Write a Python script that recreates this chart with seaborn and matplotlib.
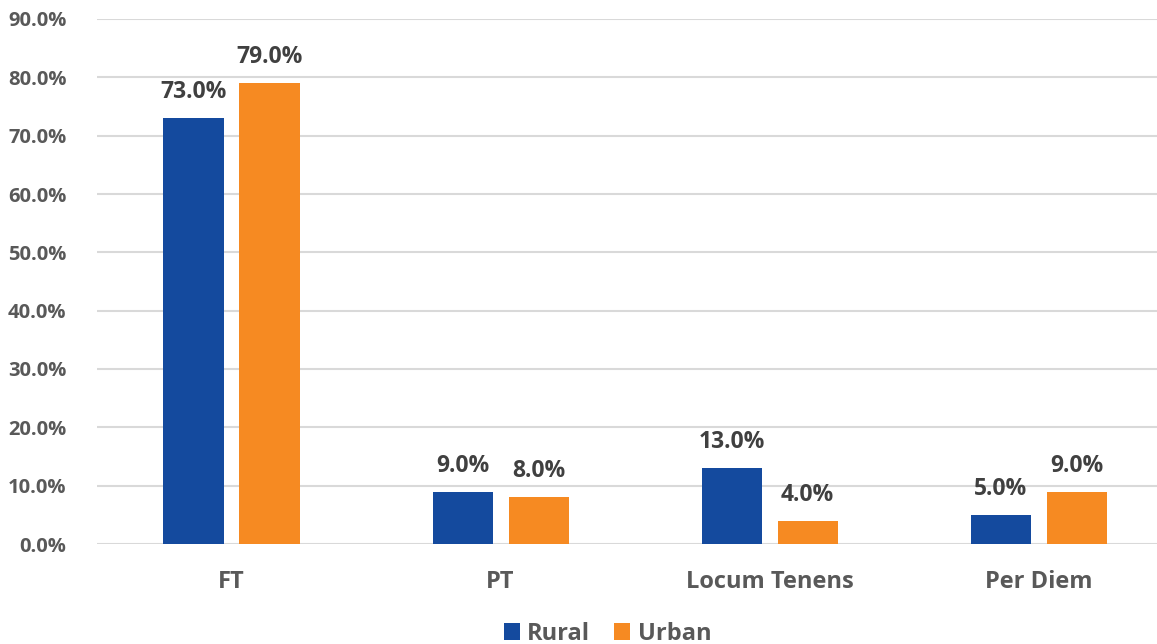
import matplotlib
matplotlib.use('Agg')
import matplotlib.pyplot as plt
import seaborn as sns
import pandas as pd

categories = ['FT', 'PT', 'Locum Tenens', 'Per Diem']
rural = [73.0, 9.0, 13.0, 5.0]
urban = [79.0, 8.0, 4.0, 9.0]

df = pd.DataFrame({
    'category': categories * 2,
    'value': rural + urban,
    'group': ['Rural'] * 4 + ['Urban'] * 4,
})

sns.set_theme(style='white')
plt.rcParams['font.family'] = ['Open Sans', 'DejaVu Sans']
grey = '#595959'

fig = plt.figure(figsize=(11.57, 6.44), dpi=100)
ax = fig.add_axes([97 / 1157, 1 - 544 / 644, 1 - 97 / 1157, (544 - 19) / 644])

sns.barplot(data=df, x='category', y='value', hue='group',
            palette={'Rural': '#144a9e', 'Urban': '#f68a22'},
            saturation=1, width=0.565, gap=0.21, linewidth=0,
            ax=ax, legend=True)

for cont in ax.containers:
    ax.bar_label(cont, fmt='%.1f%%', padding=10, fontsize=16.5,
                 fontweight='bold', color='#404040')

ax.set_ylim(0, 90)
ax.set_xlim(-0.5, 3.44)
ax.set_yticks(range(0, 91, 10))
ax.set_yticklabels([f'{v:.1f}%' for v in range(0, 91, 10)])
ax.yaxis.grid(True, color='#d9d9d9', linewidth=1.5)
ax.set_axisbelow(True)
for s in ax.spines.values():
    s.set_visible(False)
ax.tick_params(axis='y', length=0, pad=22, labelsize=14.5, labelcolor=grey)
ax.tick_params(axis='x', length=0, pad=19, labelsize=17, labelcolor=grey)
for lbl in ax.get_xticklabels() + ax.get_yticklabels():
    lbl.set_fontweight('bold')
ax.set_xlabel('')
ax.set_ylabel('')

handles, labels = ax.get_legend_handles_labels()
ax.get_legend().remove()
fig.legend(handles, labels, loc='center', bbox_to_anchor=(0.525, 1 - 634 / 644),
           ncol=2, frameon=False, handlelength=0.7, handleheight=0.7,
           handletextpad=0.3, columnspacing=1.0,
           prop={'size': 17, 'weight': 'bold'}, labelcolor=grey)

fig.savefig('out.png', dpi=100)
